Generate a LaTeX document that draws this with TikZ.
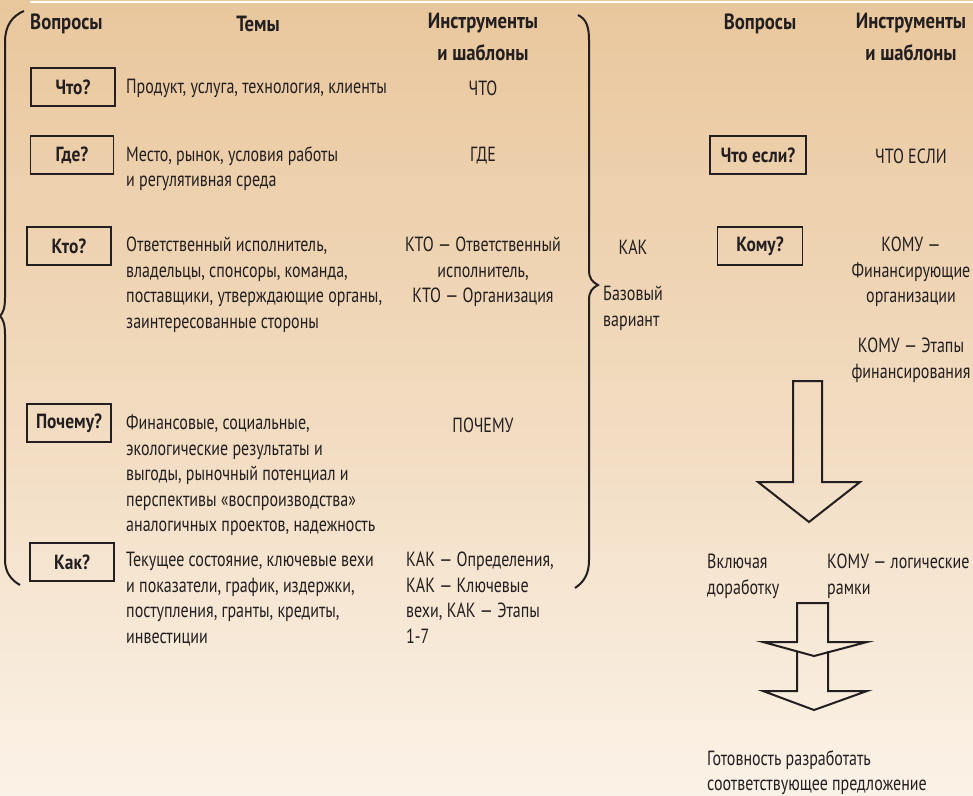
\documentclass[tikz,border=0pt]{standalone}
\usepackage{fontspec}
\setmainfont{PT Sans}[FakeStretch=0.78, BoldFeatures={FakeStretch=0.85}]
\usetikzlibrary{positioning}
\definecolor{bgtop}{RGB}{233,199,157}
\definecolor{bgbot}{RGB}{251,242,231}
\definecolor{ink}{RGB}{35,31,32}

\begin{document}
\begin{tikzpicture}[x=1pt, y=-1pt,
		every node/.style={text=ink, font=\fontsize{20.5}{25.5}\selectfont},
		head/.style={font=\fontsize{22}{32}\selectfont\bfseries, align=center},
		qbox/.style={draw=ink, line width=1.3pt, minimum height=38pt, inner sep=2pt, font=\fontsize{20.5}{25.5}\selectfont\bfseries},
		topic/.style={anchor=north west, align=left, inner sep=0pt},
		tool/.style={anchor=north, align=center, inner sep=0pt},
		brace/.style={draw=ink, line width=2pt},
		bigarrow/.style={draw=ink, line width=2pt, line join=miter}]
		\shade[top color=bgtop, bottom color=bgbot, middle color=bgtop!55!bgbot] (0,0) rectangle (973,795);
		\useasboundingbox (0,0) rectangle (973,795);
		\draw[white, line width=2pt] (30,2) -- (973,2);

		% headers
		\node[head, anchor=west, inner sep=0pt] (hq) at (30,24) {Вопросы};
		\node[head] (ht) at (258,24) {Темы};
		\node[head, anchor=north, inner sep=0pt] (hi) at (483,13) {Инструменты\\ и шаблоны};
		\node[head] (hq2) at (760,24) {Вопросы};
		\node[head, anchor=north, inner sep=0pt] (hi2) at (911,13) {Инструменты\\ и шаблоны};

		% left column
		\node[qbox, minimum width=84pt] (what) at (73,87) {Что?};
		\node[qbox, minimum width=83pt] (where) at (72,155) {Где?};
		\node[qbox, minimum width=84pt] (who) at (69,246) {Кто?};
		\node[qbox, minimum width=84pt] (why) at (69,423) {Почему?};
		\node[qbox, minimum width=84pt] (how) at (72,562) {Как?};

		\node[anchor=west, inner sep=0pt] (twhat) at (126,88) {Продукт, услуга, технология, клиенты};
		\node[topic] (twhere) at (126,146) {Место, рынок, условия работы\\ и регулятивная среда};
		\node[topic] (twho) at (126,237) {Ответственный исполнитель,\\ владельцы, спонсоры, команда,\\ поставщики, утверждающие органы,\\ заинтересованные стороны};
		\node[topic] (twhy) at (126,415) {Финансовые, социальные,\\ экологические результаты и\\ выгоды, рыночный потенциал и\\ перспективы «воспроизводства»\\ аналогичных проектов, надежность};
		\node[topic] (thow) at (126,552) {Текущее состояние, ключевые вехи\\ и показатели, график, издержки,\\ поступления, гранты, кредиты,\\ инвестиции};

		\node (iwhat) at (483,88) {ЧТО};
		\node (iwhere) at (483,156) {ГДЕ};
		\node[tool] (iwho) at (483,237) {КТО — Ответственный\\ исполнитель,\\ КТО — Организация};
		\node (iwhy) at (483,425) {ПОЧЕМУ};
		\node[topic] (ihow) at (406,552) {КАК — Определения,\\ КАК — Ключевые\\ вехи, КАК — Этапы\\ 1-7};

		% braces
		\draw[brace] (24,11) .. controls (12,16) and (5,26) .. (5,42) -- (5,298)
			.. controls (5,308) and (3,313) .. (0,316) .. controls (3,319) and (5,324) .. (5,334)
			-- (5,560) .. controls (5,572) and (11,580) .. (20,585);
		\draw[brace] (578,15) .. controls (586,19) and (589,26) .. (589,40) -- (589,270)
			.. controls (589,278) and (592,282) .. (598,285) .. controls (592,288) and (589,292) .. (589,300)
			-- (589,560) .. controls (589,574) and (584,582) .. (575,588);

		% middle
		\node (mhow) at (633,247) {КАК};
		\node[topic] (mbase) at (603,286) {Базовый\\ вариант};

		% right column
		\node[qbox, minimum width=96pt] (whatif) at (758,155) {Что если?};
		\node[qbox, minimum width=85pt] (whom) at (760,246) {Кому?};
		\node (iwhatif) at (911,156) {ЧТО ЕСЛИ};
		\node[tool] (iwhom) at (911,237) {КОМУ —\\ Финансирующие\\ организации};
		\node[tool] (istage) at (911,338) {КОМУ — Этапы\\ финансирования};

		\draw[bigarrow] (793,381) -- (793,482) -- (758,482) -- (809,522) -- (860,482) -- (822,482) -- (822,381) -- cycle;

		\node[topic] (incl) at (707,554) {Включая\\ доработку};
		\node[topic] (frame) at (827,554) {КОМУ — логические\\ рамки};

		\draw[bigarrow] (797,603) -- (797,642) -- (763,642) -- (814,656) -- (867,642) -- (828,642) -- (828,603) -- cycle;
		\draw[bigarrow] (797,651) -- (797,691) -- (763,691) -- (814,710) -- (867,691) -- (828,691) -- (828,651);

		\node[topic] (ready) at (707,750) {Готовность разработать\\ соответствующее предложение};
\end{tikzpicture}
\end{document}
